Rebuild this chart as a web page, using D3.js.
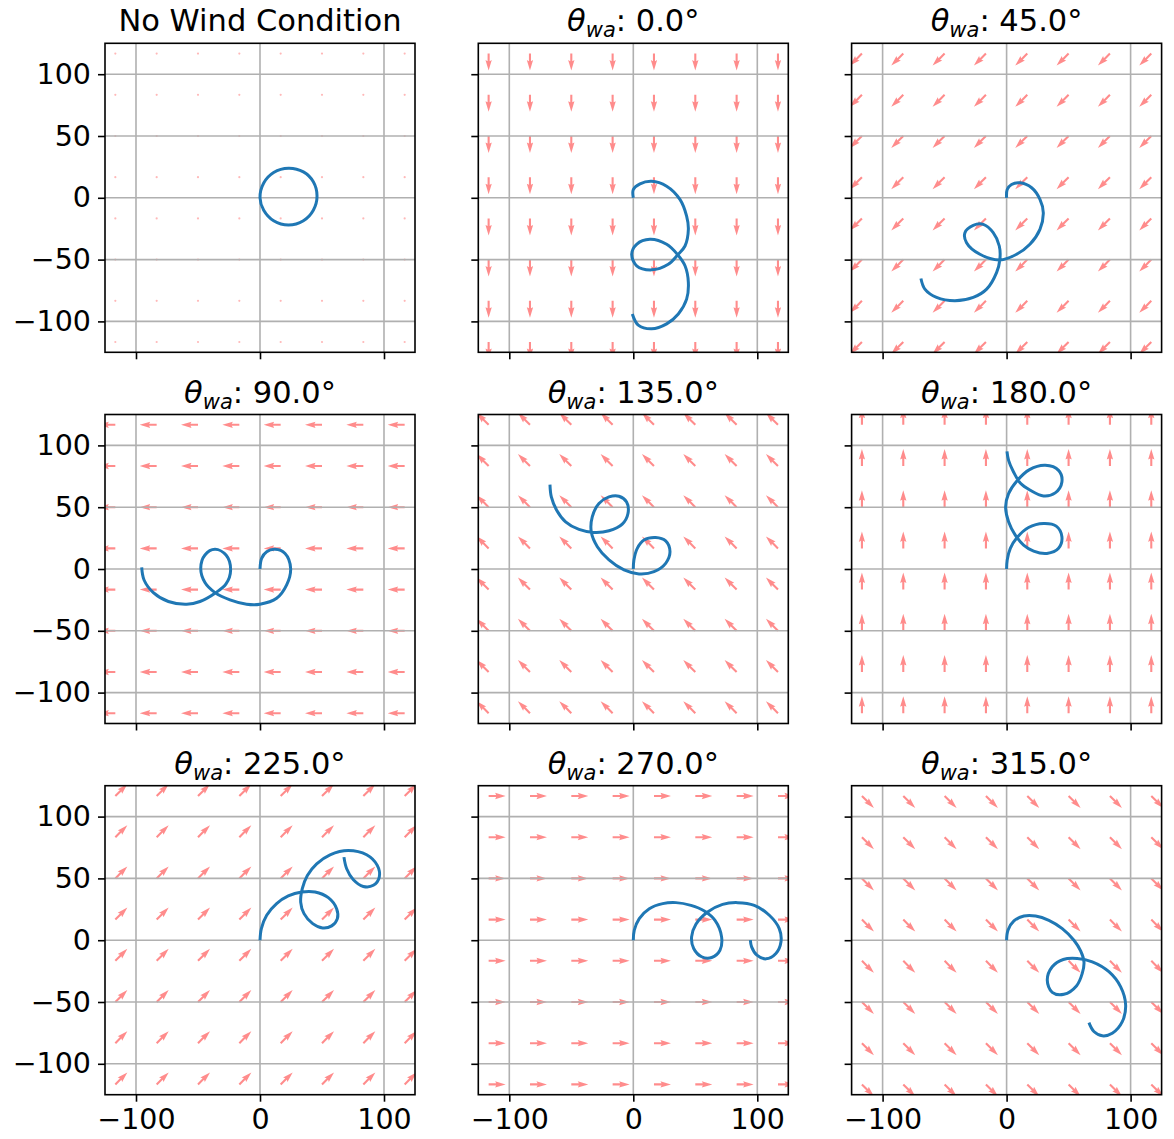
<!DOCTYPE html>
<html>
<head>
<meta charset="utf-8">
<script src="https://cdn.jsdelivr.net/npm/d3@7"></script>
<style>
  body { margin: 0; background: #fff; }
  text { font-family: "DejaVu Sans", sans-serif; fill: #000; }
</style>
</head>
<body>
<svg id="chart" width="1174" height="1139"></svg>
<script>
// tick values and the quiver grid
const xTicks = [-100, 0, 100];
const yTicks = [-100, -50, 0, 50, 100];
const arrowGrid = [-116.67, -83.33, -50, -16.67, 16.67, 50, 83.33, 116.67];

// wind angle per panel (null = no wind)
const windAngles = [null, 0, 45, 90, 135, 180, 225, 270, 315];

// trajectories, [x, y]
const trajNoWind = [[0,0],[3,12],[11,20.5],[23,24],[35,21],[43,13],[46,1.5],[43,-10],[35,-18.5],[23,-22],[11,-18.5],[3,-10]];
const traj0 = [[0,0],[0,6.7],[5.4,11.3],[14.8,13.4],[26.9,9.4],[37.6,-1.3],[43,-14.8],[44.4,-25.5],[41.7,-39],[35.5,-46.5],[28.2,-53.8],[14.8,-58.3],[2.7,-55],[-1.3,-45.7],[2.7,-37.6],[13.4,-33.6],[26.9,-37.6],[35.5,-45.7],[41.7,-55],[44.4,-68.5],[43,-82],[36.3,-94],[26.9,-102],[14.8,-106],[4,-103],[-0.8,-94]];
const traj45 = [[0,0],[0.5,6.7],[4,10.8],[10.8,12.1],[20.2,8.1],[26.9,-1.3],[29.6,-12.1],[26.9,-25.5],[18.8,-37.6],[8.1,-45.7],[-5.4,-50.3],[-21.5,-45.7],[-32.3,-36.3],[-33.6,-28.2],[-26.9,-22.3],[-18.8,-21.5],[-10.8,-28.2],[-5.9,-39],[-5.4,-49.7],[-8.1,-60.5],[-16.1,-73.9],[-26.9,-80.6],[-41.7,-83.3],[-56.5,-80.6],[-65.9,-73.9],[-69.1,-65.3]];
const traj90 = [[0,0],[1.3,8.6],[5.4,14],[12.1,15.9],[20.2,12.6],[24.7,0.5],[21.5,-12.9],[13.4,-23.7],[0,-28.5],[-10.8,-28.5],[-24.2,-25],[-36.3,-19.1],[-44.4,-11],[-47.8,0.5],[-44.4,11.3],[-36.3,15.9],[-27.4,11.3],[-23.7,-0.8],[-27.4,-12.1],[-36.3,-19.6],[-48.4,-26.3],[-59.1,-28.5],[-73.9,-26.3],[-86,-19.1],[-93.5,-8.9],[-95.4,1.3]];
const traj135 = [[0,0],[0.5,7.3],[3.2,16.7],[8.6,23.4],[18,25.5],[26.1,22.8],[29.6,14],[26.1,4.6],[16.7,-2.2],[4.6,-4],[-7.5,-0.8],[-19.6,7.3],[-29,18],[-33.9,30.1],[-33.1,42.2],[-27.7,53],[-19.6,58.3],[-11.6,58.9],[-5.4,54.3],[-4.3,44.9],[-8.9,36.3],[-19.6,30.9],[-31.7,29.6],[-43.8,32],[-54.6,38.2],[-61.8,47.6],[-66.1,58.3],[-67.2,68.3]];
const traj180 = [[0,0],[0.5,7.3],[3,16.7],[8.3,25.3],[17.7,33.6],[29.8,36.8],[40,34.7],[44.6,26.1],[41.9,16.7],[32.5,12.6],[21.8,14.5],[13.7,19.4],[7,27.4],[1.6,38.2],[-0.8,50.3],[1.6,61],[8.3,71.2],[18.5,80.4],[31.2,83.9],[41.9,79.8],[44.6,70.4],[39.2,61.6],[29.8,59.1],[19.1,63.7],[11,69.6],[5.6,78.5],[1.6,87.9],[0.3,95.2]];
const traj225 = [[0,0],[1.1,9.4],[5.4,20.2],[13.4,29.6],[22.8,35.8],[33.6,39],[44.4,39],[55.1,34.4],[61.8,25.5],[62.4,17.5],[57.8,11.6],[50.5,9.9],[42.5,13.4],[35.5,21.5],[32.8,30.9],[34.1,41.7],[38.2,52.4],[45.7,61.8],[56.5,69.1],[71.2,72.6],[86,69.1],[94.6,60.5],[96.2,51.1],[91.4,44.4],[83.3,43.5],[75.3,48.9],[69.9,57.8],[67.7,67.2]];
const traj270 = [[0,0],[0.8,8.1],[4.8,17.5],[12.9,25.5],[23.7,29.6],[34.4,30.4],[46.5,28.2],[57.3,23.7],[65.9,16.1],[71.2,2.7],[69.9,-8.1],[63.2,-14],[55.1,-13.4],[48.7,-6.7],[47,2.7],[50.5,12.9],[59.9,22.8],[72,29],[84.1,30.4],[97.6,28.2],[109.7,20.2],[117.7,9.4],[119.1,-1.3],[115,-10.8],[107,-15.1],[99.7,-12.1],[95.4,-5.4],[94.4,0]];
const traj315 = [[0,0],[1.1,8.1],[5.9,15.6],[14,19.6],[23.4,19.6],[34.1,16.1],[44.9,9.4],[54.3,0],[59.7,-8.6],[62.4,-17.5],[61,-26.9],[56.5,-36.8],[46.2,-43.8],[36.8,-42.2],[32.8,-32.3],[36.8,-21.5],[45.7,-15.6],[57,-14.8],[69.1,-17.5],[82.5,-25.5],[91.9,-37.6],[96,-52.4],[93.3,-65.9],[85.2,-75.3],[77.2,-77.4],[70.4,-73.9],[66.4,-66.7]];

const trajectories = [trajNoWind, traj0, traj45, traj90, traj135, traj180, traj225, traj270, traj315];

// layout
const LEFT = 105, TOP = 43.3,
    COL_STEP = 373.3, ROW_STEP = 371.2,
    PANEL_W = 310, PANEL_H = 309;
const TICK = 7, PAD = 7;

const svg = d3.select('#chart');

const xScale = d3.scaleLinear().domain([-125, 125]).range([0, PANEL_W]);
const yScale = d3.scaleLinear().domain([-125, 125]).range([PANEL_H, 0]);

const fmt = d => d < 0 ? '\u2212' + Math.abs(d) : String(d);

/**
 * quiver arrow outline pointing along +x, tail at origin
 */
function arrowPath(){
    const L = 17, w = 2.1;
    const pts = [[0,-w/2],[L-4.5*w,-w/2],[L-5*w,-1.5*w],[L,0],[L-5*w,1.5*w],[L-4.5*w,w/2],[0,w/2]];
    return 'M' + pts.map(p => p.join(',')).join('L') + 'Z';
}

/**
 * draws one subplot
 */
function renderPanel(i){
    const col = i % 3, row = Math.floor(i / 3);
    const angle = windAngles[i];
    const g = svg.append('g')
    .attr('transform', `translate(${LEFT + col*COL_STEP},${TOP + row*ROW_STEP})`);

    g.append('clipPath').attr('id', 'clip' + i)
    .append('rect').attr('width', PANEL_W).attr('height', PANEL_H);

    const inner = g.append('g').attr('clip-path', `url(#clip${i})`);

    // quiver grid
    const pts = d3.cross(arrowGrid, arrowGrid);
    if (angle === null){
        inner.selectAll('circle.dot')
        .data(pts)
        .enter()
        .append('circle')
        .attr('class', 'dot')
        .attr('cx', d => xScale(d[0]))
        .attr('cy', d => yScale(d[1]))
        .attr('r', 1.1)
        .attr('fill', 'red')
        .attr('opacity', 0.28);
    } else {
        const th = angle * Math.PI / 180;
        // wind blows toward (-sin, -cos); svg y points down
        const rot = Math.atan2(Math.cos(th), -Math.sin(th)) * 180 / Math.PI;
        inner.selectAll('path.arrow')
        .data(pts)
        .enter()
        .append('path')
        .attr('class', 'arrow')
        .attr('d', arrowPath())
        .attr('transform', d => `translate(${xScale(d[0])},${yScale(d[1])}) rotate(${rot})`)
        .attr('fill', 'red')
        .attr('opacity', 0.45);
    }

    // grid lines (drawn over the arrows like matplotlib does)
    inner.selectAll('line.gx')
    .data(xTicks)
    .enter()
    .append('line')
    .attr('x1', d => xScale(d)).attr('x2', d => xScale(d))
    .attr('y1', 0).attr('y2', PANEL_H)
    .attr('stroke', '#b0b0b0').attr('stroke-width', 1.6);

    inner.selectAll('line.gy')
    .data(yTicks)
    .enter()
    .append('line')
    .attr('y1', d => yScale(d)).attr('y2', d => yScale(d))
    .attr('x1', 0).attr('x2', PANEL_W)
    .attr('stroke', '#b0b0b0').attr('stroke-width', 1.6);

    // trajectory
    const line = d3.line()
    .x(d => xScale(d[0]))
    .y(d => yScale(d[1]))
    .curve(angle === null ? d3.curveCatmullRomClosed : d3.curveCatmullRom);

    inner.append('path')
    .datum(trajectories[i])
    .attr('d', line)
    .attr('fill', 'none')
    .attr('stroke', '#1f77b4')
    .attr('stroke-width', 3)
    .attr('stroke-linejoin', 'round')
    .attr('stroke-linecap', 'butt');

    // spines
    g.append('rect')
    .attr('width', PANEL_W).attr('height', PANEL_H)
    .attr('fill', 'none').attr('stroke', '#000').attr('stroke-width', 1.6);

    // ticks
    const yAxis = d3.axisLeft(yScale).tickValues(yTicks).tickSize(TICK).tickPadding(PAD)
    .tickFormat(col === 0 ? fmt : '');
    const xAxis = d3.axisBottom(xScale).tickValues(xTicks).tickSize(TICK).tickPadding(PAD)
    .tickFormat(row === 2 ? fmt : '');

    const ya = g.append('g').call(yAxis);
    const xa = g.append('g').attr('transform', `translate(0,${PANEL_H})`).call(xAxis);
    [ya, xa].forEach(a => {
        a.select('.domain').remove();
        a.selectAll('line').attr('stroke', '#000').attr('stroke-width', 1.6);
        a.selectAll('text')
        .style('font-family', '"DejaVu Sans", sans-serif')
        .style('font-size', '28.5px')
        .attr('fill', '#000');
    });

    // title
    const title = g.append('text')
    .attr('x', PANEL_W / 2)
    .attr('y', -12)
    .attr('text-anchor', 'middle')
    .style('font-size', '30.5px');

    if (angle === null){
        title.text('No Wind Condition');
    } else {
        title.append('tspan').style('font-style', 'italic').text('\u03b8');
        title.append('tspan').style('font-style', 'italic')
        .style('font-size', '21px').attr('dy', 6).text('wa');
        title.append('tspan').attr('dy', -6).text(`: ${angle.toFixed(1)}\u00b0`);
    }
}

d3.range(9).forEach(renderPanel);
</script>
</body>
</html>
